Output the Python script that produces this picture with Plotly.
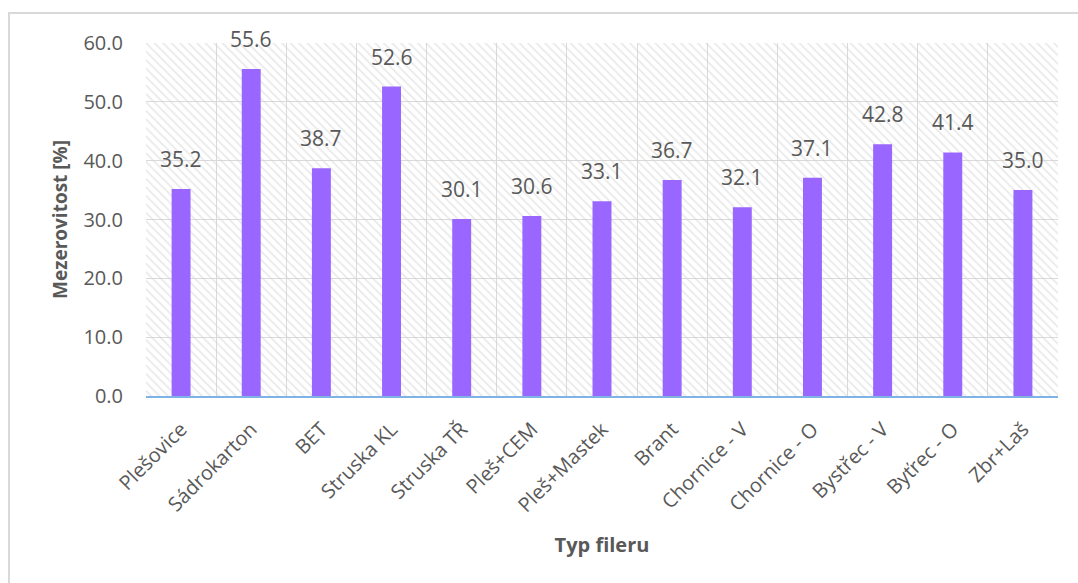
import plotly.graph_objects as go

# Filler types and their void content (mezerovitost) in percent
categories = ["Plešovice", "Sádrokarton", "BET", "Struska KL", "Struska TŘ",
              "Pleš+CEM", "Pleš+Mastek", "Brant", "Chornice - V", "Chornice - O",
              "Bystřec - V", "Byťrec - O", "Zbr+Laš"]
mezerovitost = [35.2, 55.6, 38.7, 52.6, 30.1, 30.6, 33.1, 36.7, 32.1, 37.1, 42.8, 41.4, 35.0]

y_min, y_max = 0.0, 60.0
y_ticks = [0, 10, 20, 30, 40, 50, 60]

W, H = 1078, 583
M_L, M_R, M_T, M_B = 146, 20, 43, 187

FONT = "Open Sans, Segoe UI, sans-serif"
TXT = "#595959"
GRID = "#d9d9d9"
BAR = "#9966ff"

fig = go.Figure()

# hatched plot background: one transparent bar spanning every category
fig.add_trace(go.Bar(
    x=[categories[len(categories) // 2]], y=[y_max], width=[len(categories)],
    marker=dict(color="rgba(0,0,0,0)", line=dict(width=0),
                pattern=dict(shape="\\", fgcolor="#d4d4d4", bgcolor="rgba(0,0,0,0)",
                             size=6, solidity=0.3, fillmode="overlay")),
    hoverinfo="skip", showlegend=False,
))

fig.add_trace(go.Bar(
    x=categories, y=mezerovitost, width=0.27,
    marker=dict(color=BAR, line=dict(width=0)),
    showlegend=False,
))

# value labels above each bar
for c, v in zip(categories, mezerovitost):
    fig.add_annotation(x=c, y=v, text=f"{v:.1f}", showarrow=False,
                       yanchor="bottom", yshift=14,
                       font=dict(family=FONT, size=21, color=TXT))

# outer chart frame
pw, ph = W - M_L - M_R, H - M_T - M_B
fig.add_shape(type="rect", xref="paper", yref="paper",
              x0=(9 - M_L) / pw, x1=(W + 5 - M_L) / pw,
              y0=-(H + 5 - M_T - ph) / ph, y1=1 + (M_T - 13) / ph,
              line=dict(color="#d9d9d9", width=2), fillcolor="rgba(0,0,0,0)",
              layer="below")

fig.update_layout(
    width=W, height=H,
    margin=dict(l=M_L, r=M_R, t=M_T, b=M_B),
    paper_bgcolor="white", plot_bgcolor="white",
    barmode="overlay",
    font=dict(family=FONT, color=TXT),
    xaxis=dict(
        type="category", categoryorder="array", categoryarray=categories,
        tickson="boundaries",
        showgrid=True, gridcolor=GRID, gridwidth=1,
        ticks="", tickangle=-45, ticklabelstandoff=12,
        tickfont=dict(family=FONT, size=20, color=TXT),
        showline=True, linecolor="#7fb2e5", linewidth=1.5,
        title=dict(text="<b>Typ fileru</b>", font=dict(family=FONT, size=20, color=TXT),
                   standoff=21),
        range=[-0.5, len(categories) - 0.5],
        zeroline=False,
    ),
    yaxis=dict(
        range=[y_min, y_max], tickvals=y_ticks, tickformat=".1f",
        showgrid=True, gridcolor=GRID, gridwidth=1,
        ticks="", ticklabelstandoff=22,
        tickfont=dict(family=FONT, size=20, color=TXT),
        zeroline=False, showline=False,
        title=dict(text="<b>Mezerovitost [%]</b>", font=dict(family=FONT, size=19, color=TXT),
                   standoff=10),
    ),
)

fig.write_html("out.html")
